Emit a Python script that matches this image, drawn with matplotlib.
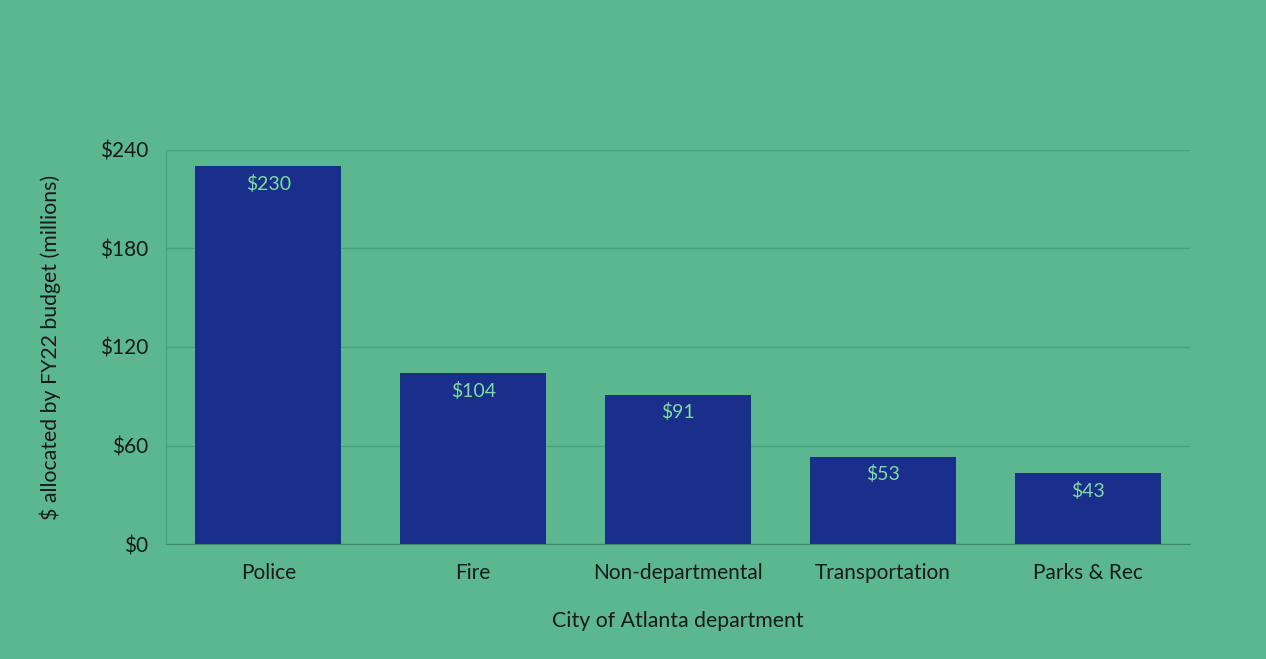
import matplotlib
matplotlib.use("Agg")
import matplotlib.pyplot as plt

categories = ["Police", "Fire", "Non-departmental", "Transportation", "Parks & Rec"]
values = [230, 104, 91, 53, 43]
yticks = [0, 60, 120, 180, 240]
ytick_labels = ["$0", "$60", "$120", "$180", "$240"]

bg = "#5bb78f"
bar_color = "#1a2e8c"
label_color = "#7fdca0"
grid_color = "#4b9f7a"

plt.rcParams['font.family'] = ['Lato', 'DejaVu Sans']

fig = plt.figure(figsize=(12.66, 6.59), dpi=100, facecolor=bg)
ax = fig.add_axes([0.1311, 0.1745, 0.8089, 0.5979])
ax.set_facecolor(bg)

x = list(range(len(categories)))
bars = ax.bar(x, values, width=0.713, color=bar_color, zorder=3)
for xi, v in zip(x, values):
    ax.annotate(f"${v}", (xi, v), xytext=(0, -6), textcoords="offset points",
                ha="center", va="top", color=label_color, fontsize=14, zorder=4)

ax.set_xlim(-0.5, 4.5)
ax.set_ylim(0, 240)
ax.set_yticks(yticks)
ax.set_yticklabels(ytick_labels)
ax.set_xticks(x)
ax.set_xticklabels(categories)
ax.tick_params(axis="both", length=0, labelsize=15, colors="#1a1a1a")
ax.tick_params(axis="x", pad=14)
ax.tick_params(axis="y", pad=13)
ax.grid(axis="y", color=grid_color, linewidth=1, zorder=0)
for s in ["top", "right"]:
    ax.spines[s].set_visible(False)
ax.spines["left"].set_color(grid_color)
ax.spines["bottom"].set_color("#3f8a68")
ax.set_xlabel("City of Atlanta department", fontsize=15.3, color="#1a1a1a", labelpad=20)
ax.set_ylabel("$ allocated by FY22 budget (millions)", fontsize=15.3, color="#1a1a1a", labelpad=28)

fig.savefig("out.png", dpi=100, facecolor=bg)
